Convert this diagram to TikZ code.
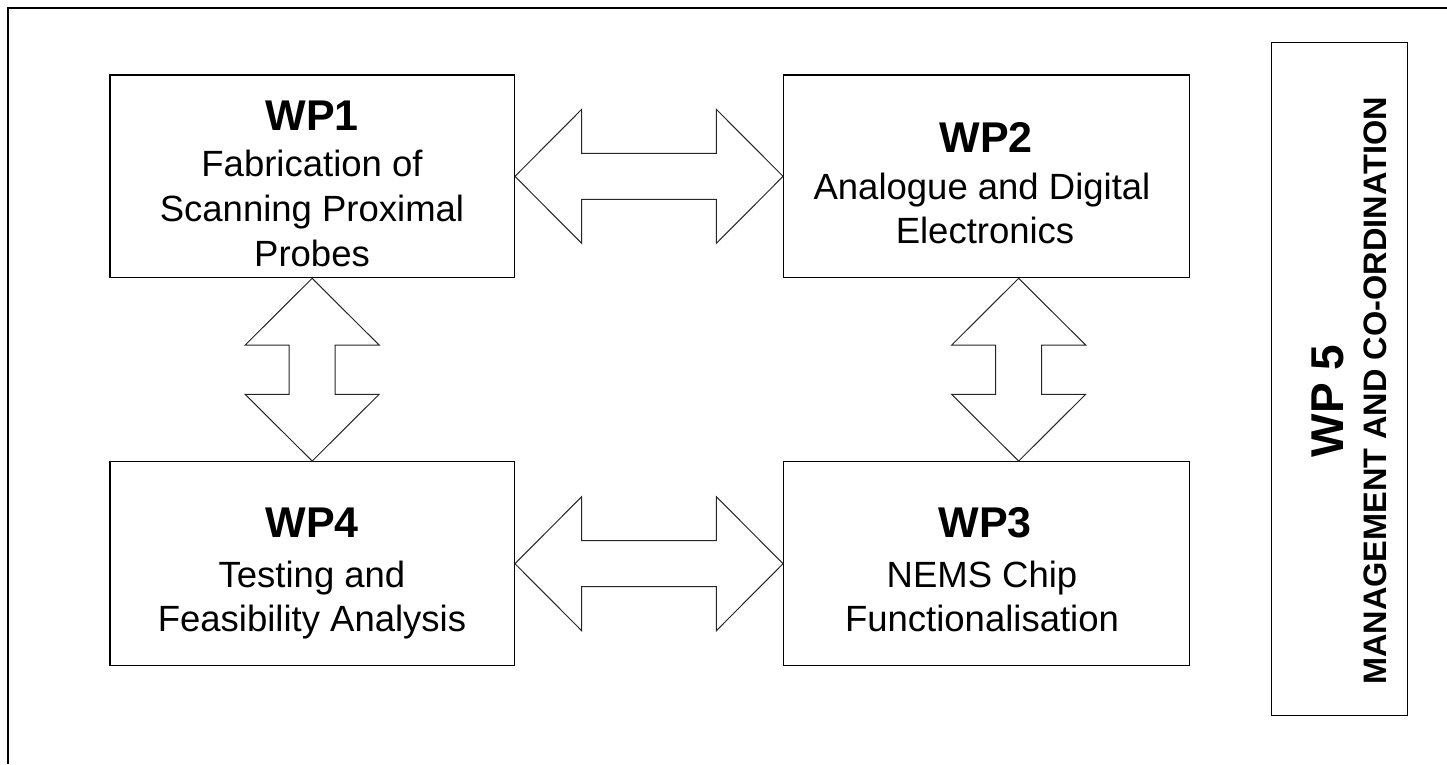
\documentclass[tikz,border=0pt]{standalone}
\usepackage{fontspec}
\setmainfont{Liberation Sans}
\usetikzlibrary{calc}
\tikzset{
  wpbox/.style={draw=black, line width=1.3pt, rectangle, inner sep=0pt},
  blockarrow/.style={draw=black!85, line width=1pt, fill=white, line join=miter},
  wptitle/.style={font=\fontsize{43}{43}\selectfont\bfseries, anchor=base, inner sep=0pt},
  wpbody/.style={font=\fontsize{36.5}{36.5}\selectfont, anchor=base, inner sep=0pt},
  framelines/.style={draw=black, line width=1.6pt},
}
\newcommand\harrowblk[2]{\draw[blockarrow] (#1) -- ($(#1)+(66.7,-67)$) -- ($(#1)+(66.7,-23)$) -- ($(#2)+(-66.7,-23)$) -- ($(#2)+(-66.7,-67)$) -- (#2) -- ($(#2)+(-66.7,67)$) -- ($(#2)+(-66.7,23)$) -- ($(#1)+(66.7,23)$) -- ($(#1)+(66.7,67)$) -- cycle;}
\newcommand\varrowblk[2]{\draw[blockarrow] (#1) -- ($(#1)+(67,66.7)$) -- ($(#1)+(23,66.7)$) -- ($(#2)+(23,-66.7)$) -- ($(#2)+(67,-66.7)$) -- (#2) -- ($(#2)+(-67,-66.7)$) -- ($(#2)+(-23,-66.7)$) -- ($(#1)+(-23,66.7)$) -- ($(#1)+(-67,66.7)$) -- cycle;}
\begin{document}
\begin{tikzpicture}[x=1pt, y=-1pt]
\fill[white] (0,0) rectangle (1447,764);
\useasboundingbox (0,0) rectangle (1447,764);
% outer frame
\draw[framelines] (8,764) -- (8,8) -- (1447,8);
% boxes
\node[wpbox, minimum width=404.3pt, minimum height=202.7pt] (wp1) at (312.15,176.35) {};
\node[wpbox, minimum width=406pt, minimum height=202.7pt] (wp2) at (986.7,176.35) {};
\node[wpbox, minimum width=404.3pt, minimum height=204pt] (wp4) at (312.15,563.7) {};
\node[wpbox, minimum width=406pt, minimum height=204pt] (wp3) at (986.7,563.7) {};
\node[wpbox, minimum width=135.8pt, minimum height=673pt] (wp5) at (1339.6,379.2) {};
% texts
\node[wptitle] (t1) at (312,130) {WP1};
\node[wpbody] (t1a) at (312,176.7) {Fabrication of};
\node[wpbody] (t1b) at (312,221.7) {Scanning Proximal};
\node[wpbody] (t1c) at (312,266.3) {Probes};
\node[wptitle] (t2) at (986,152.3) {WP2};
\node[wpbody] (t2a) at (982,199) {Analogue and Digital};
\node[wpbody] (t2b) at (985,243.3) {Electronics};
\node[wptitle] (t4) at (312,537.7) {WP4};
\node[wpbody] (t4a) at (312,587) {Testing and};
\node[wpbody] (t4b) at (312,631.7) {Feasibility Analysis};
\node[wptitle] (t3) at (985,537.7) {WP3};
\node[wpbody] (t3a) at (982,587) {NEMS Chip};
\node[wpbody] (t3b) at (982,631.7) {Functionalisation};
\node[font=\fontsize{46}{46}\selectfont\bfseries, anchor=base, inner sep=0pt, rotate=90] (t5) at (1343,401) {WP 5};
\node[font=\fontsize{32.5}{32.5}\selectfont\bfseries, anchor=base, inner sep=0pt, rotate=90] (t5a) at (1386.5,391) {MANAGEMENT AND CO-ORDINATION};
% connectors
\coordinate (r1) at ($(wp2.south west)+(235.6,0)$);
\coordinate (r2) at ($(wp3.north west)+(235.6,0)$);
\harrowblk{wp1.east}{wp2.west}
\varrowblk{wp1.south}{wp4.north}
\varrowblk{r1}{r2}
\harrowblk{wp4.east}{wp3.west}
\end{tikzpicture}
\end{document}
